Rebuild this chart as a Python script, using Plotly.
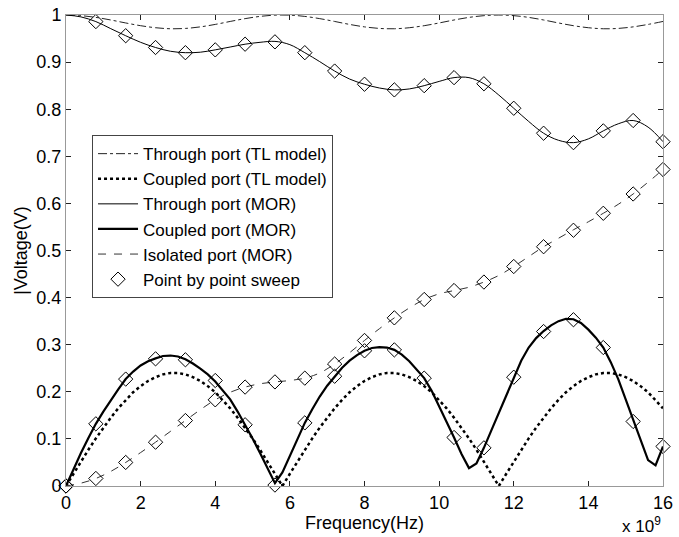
import plotly.graph_objects as go

# Frequency grids (in units of 1e9 Hz)
freq_fine = [round(0.2 * i, 1) for i in range(81)]      # 0 .. 16 step 0.2
freq_coarse = [round(0.4 * i, 1) for i in range(41)]    # 0 .. 16 step 0.4
freq_sweep = [round(0.8 * i, 1) for i in range(21)]     # 0 .. 16 step 0.8

# Through port (TL model), on freq_coarse
through_tl = [1.000, 0.9986, 0.9949, 0.9894, 0.9831, 0.9773, 0.9730, 0.9708,
              0.9715, 0.9748, 0.9800, 0.9863, 0.9923, 0.9970, 0.9997,
              0.9997, 0.9970, 0.9923, 0.9863, 0.9800, 0.9748, 0.9715, 0.9708,
              0.9730, 0.9773, 0.9831, 0.9894, 0.9949, 0.9986, 1.000,
              0.9986, 0.9949, 0.9894, 0.9831, 0.9773, 0.9730, 0.9708, 0.9715,
              0.9748, 0.9800, 0.9863]

# Coupled port (TL model), on freq_fine
coupled_tl = [0.000, 0.026, 0.052, 0.077, 0.101, 0.124, 0.145, 0.165, 0.183, 0.199,
              0.212, 0.223, 0.231, 0.237, 0.240, 0.240, 0.237, 0.231, 0.223, 0.212,
              0.199, 0.183, 0.165, 0.145, 0.124, 0.101, 0.077, 0.052, 0.026, 0.000,
              0.026, 0.052, 0.077, 0.101, 0.124, 0.145, 0.165, 0.183, 0.199,
              0.212, 0.223, 0.231, 0.237, 0.240, 0.240, 0.237, 0.231, 0.223, 0.212,
              0.199, 0.183, 0.165, 0.145, 0.124, 0.101, 0.077, 0.052, 0.026, 0.000,
              0.026, 0.052, 0.077, 0.101, 0.124, 0.145, 0.165, 0.183, 0.199,
              0.212, 0.223, 0.231, 0.237, 0.240, 0.240, 0.237, 0.231, 0.223, 0.212,
              0.199, 0.183, 0.165]

# Through port (MOR), on freq_coarse
through_mor = [1.000, 0.996, 0.986, 0.971, 0.956, 0.942, 0.931, 0.923, 0.920, 0.921,
               0.926, 0.932, 0.938, 0.942, 0.944, 0.937, 0.920, 0.901, 0.881, 0.864,
               0.853, 0.845, 0.841, 0.843, 0.850, 0.859, 0.867, 0.867, 0.854, 0.830,
               0.802, 0.774, 0.749, 0.734, 0.729, 0.737, 0.754, 0.769, 0.776, 0.762,
               0.731]

# Coupled port (MOR), on freq_fine
coupled_mor = [0.000, 0.036, 0.070, 0.102, 0.132, 0.158, 0.183, 0.205, 0.227, 0.243,
               0.256, 0.265, 0.271, 0.276, 0.277, 0.275, 0.269, 0.260, 0.249, 0.237,
               0.222, 0.204, 0.184, 0.158, 0.130, 0.101, 0.070, 0.039, 0.006, 0.029,
               0.065, 0.100, 0.134, 0.163, 0.190, 0.213, 0.233, 0.251, 0.266, 0.278,
               0.287, 0.293, 0.295, 0.294, 0.289, 0.279, 0.265, 0.248, 0.229, 0.202,
               0.170, 0.137, 0.103, 0.068, 0.038, 0.048, 0.081, 0.118, 0.156, 0.194,
               0.231, 0.266, 0.294, 0.314, 0.329, 0.341, 0.350, 0.355, 0.354, 0.346,
               0.332, 0.315, 0.294, 0.263, 0.227, 0.184, 0.137, 0.095, 0.055, 0.044,
               0.084]

# Isolated port (MOR), on freq_coarse
isolated_mor = [0.000, 0.006, 0.016, 0.031, 0.050, 0.071, 0.093, 0.116, 0.139, 0.162,
                0.183, 0.199, 0.210, 0.217, 0.221, 0.224, 0.229, 0.240, 0.259, 0.283,
                0.309, 0.334, 0.357, 0.378, 0.396, 0.408, 0.415, 0.422, 0.433, 0.447,
                0.466, 0.487, 0.508, 0.526, 0.544, 0.561, 0.579, 0.598, 0.620, 0.645,
                0.672]

# Point-by-point sweep values
sweep_through = [None, 0.986, 0.956, 0.931, 0.920, 0.926, 0.938, 0.943, 0.920, 0.881,
                 0.853, 0.841, 0.850, 0.867, 0.854, 0.802, 0.749, 0.729, 0.754, 0.776,
                 0.731]
sweep_coupled = [0.000, 0.132, 0.227, 0.270, 0.268, 0.224, 0.130, 0.002, 0.134, 0.233,
                 0.287, 0.289, 0.229, 0.103, 0.081, 0.231, 0.328, 0.353, 0.294, 0.137,
                 0.084]
sweep_isolated = [0.000, 0.016, 0.050, 0.093, 0.139, 0.183, 0.210, 0.221, 0.229, 0.259,
                  0.309, 0.357, 0.396, 0.415, 0.433, 0.466, 0.508, 0.543, 0.579, 0.620,
                  0.672]

x_ticks = [0, 2, 4, 6, 8, 10, 12, 14, 16]
y_ticks = [0, 0.1, 0.2, 0.3, 0.4, 0.5, 0.6, 0.7, 0.8, 0.9, 1]
y_tick_text = ["0", "0.1", "0.2", "0.3", "0.4", "0.5", "0.6", "0.7", "0.8", "0.9", "1"]

FONT = "Liberation Sans, Arial, Helvetica, sans-serif"

fig = go.Figure()
fig.add_trace(go.Scatter(x=freq_coarse, y=through_tl, mode="lines",
                         name="Through port (TL model)", line_shape="spline",
                         line=dict(color="#222222", width=1, dash="dashdot")))
fig.add_trace(go.Scatter(x=freq_fine, y=coupled_tl, mode="lines",
                         name="Coupled port (TL model)",
                         line=dict(color="black", width=2.5, dash="dot")))
fig.add_trace(go.Scatter(x=freq_coarse, y=through_mor, mode="lines",
                         name="Through port (MOR)", line_shape="spline",
                         line=dict(color="black", width=1)))
fig.add_trace(go.Scatter(x=freq_fine, y=coupled_mor, mode="lines",
                         name="Coupled port (MOR)",
                         line=dict(color="black", width=2.2)))
fig.add_trace(go.Scatter(x=freq_coarse, y=isolated_mor, mode="lines",
                         name="Isolated port (MOR)", line_shape="spline",
                         line=dict(color="#333333", width=1, dash="8px,8px")))

sx = freq_sweep + [None] + freq_sweep + [None] + freq_sweep
sy = sweep_through + [None] + sweep_coupled + [None] + sweep_isolated
fig.add_trace(go.Scatter(x=sx, y=sy, mode="markers", name="Point by point sweep",
                         cliponaxis=False,
                         marker=dict(symbol="diamond-open", size=11, color="black",
                                     line=dict(width=1, color="black"))))

axis_common = dict(showgrid=False, zeroline=False, showline=True, linecolor="#999999",
                   linewidth=1, mirror="ticks", ticks="inside", ticklen=5,
                   tickcolor="#222222", tickfont=dict(size=18, color="black", family=FONT))

fig.update_xaxes(range=[0, 16], tickvals=x_ticks, ticktext=[str(t) for t in x_ticks],
                 title=dict(text="Frequency(Hz)", font=dict(size=18, color="black", family=FONT),
                            standoff=2),
                 automargin=False, **axis_common)
fig.update_yaxes(range=[0, 1], tickvals=y_ticks, ticktext=y_tick_text,
                 title=dict(text="|Voltage(V)", font=dict(size=18, color="black", family=FONT),
                            standoff=4),
                 automargin=False, **axis_common)

fig.add_annotation(text="x 10<sup>9</sup>", xref="paper", yref="paper", x=1.0, y=-0.082,
                   xanchor="right", yanchor="middle", showarrow=False,
                   font=dict(size=17, color="black", family=FONT))

fig.update_layout(
    width=679, height=537,
    margin=dict(l=66, r=16, t=15, b=51),
    paper_bgcolor="white", plot_bgcolor="white",
    font=dict(family=FONT, size=18, color="black"),
    legend=dict(x=0.0436, y=0.745, xanchor="left", yanchor="top",
                bgcolor="white", bordercolor="#444444", borderwidth=1,
                font=dict(size=17, color="black", family=FONT),
                tracegroupgap=0, itemwidth=40),
    showlegend=True,
)

fig.write_html("out.html", post_script="document.body.style.margin='0';",
               config={"displayModeBar": False})
